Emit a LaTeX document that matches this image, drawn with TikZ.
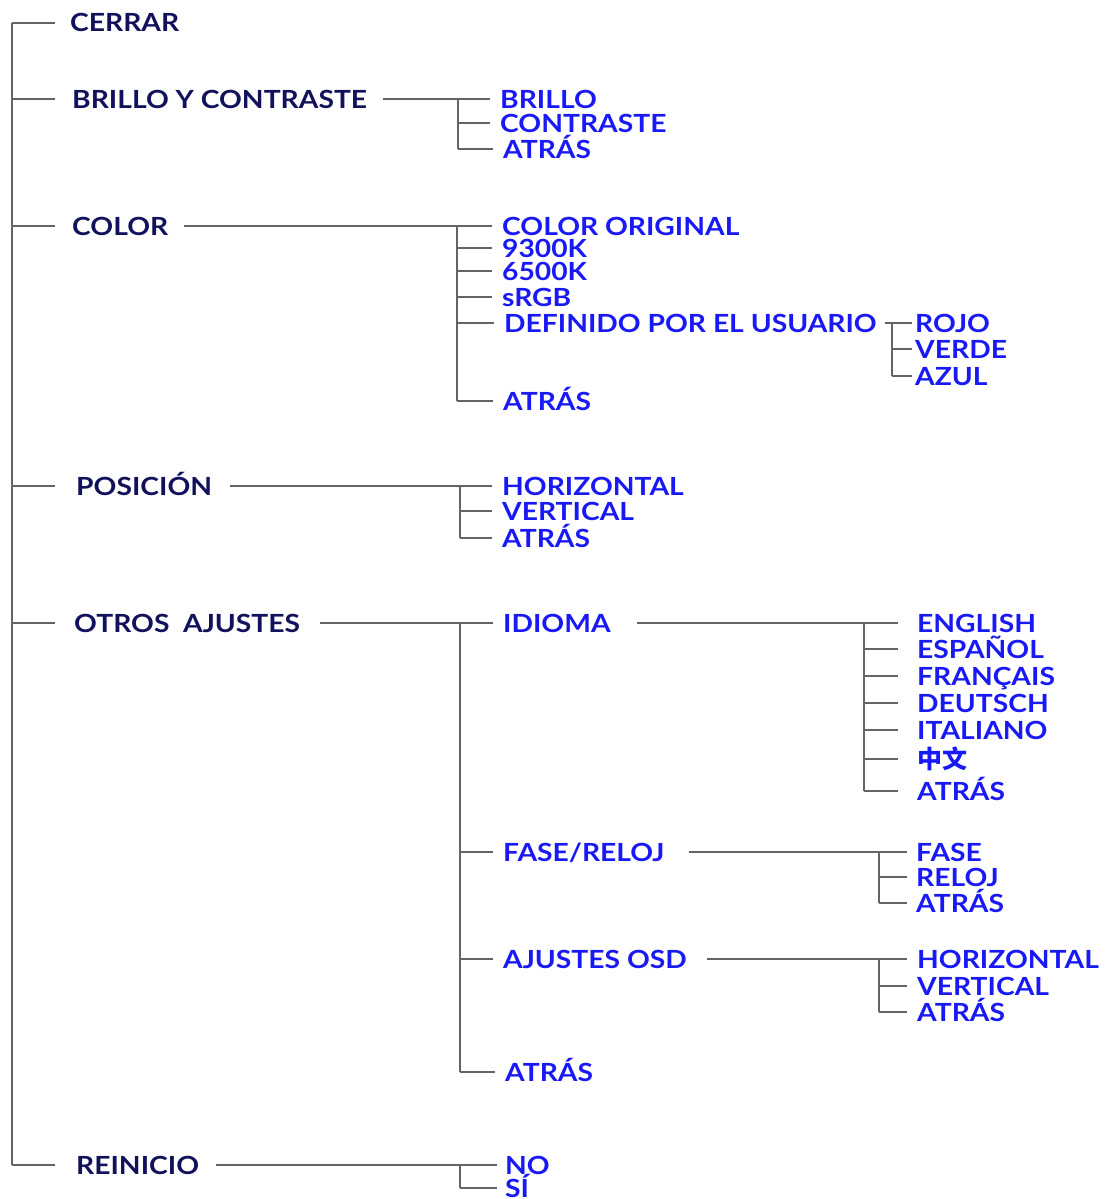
\documentclass[tikz,border=0pt]{standalone}
\usepackage{fontspec}
\setmainfont{Lato}[FakeStretch=1.13]
\newfontfamily\cjk{Noto Sans CJK SC}
\definecolor{menunavy}{RGB}{18,18,92}
\definecolor{menublue}{RGB}{25,25,245}
\definecolor{linegray}{RGB}{100,100,100}
\tikzset{
  mainitem/.style={anchor=west, inner sep=0pt, text height=18pt, text depth=0pt,
    text=menunavy, font=\fontsize{25}{25}\selectfont\bfseries},
  subitem/.style={mainitem, text=menublue},
  link/.style={draw=linegray, line width=1.4pt}
}
\begin{document}
\begin{tikzpicture}[x=1pt, y=-1pt]
\useasboundingbox (0,0) rectangle (1104,1199);
% main menu
\node[mainitem] (cerrar) at (70,23) {CERRAR};
\node[mainitem] (brillo) at (72,99) {BRILLO Y CONTRASTE};
\node[mainitem] (color) at (72,226) {COLOR};
\node[mainitem] (posicion) at (76,486) {POSICIÓN};
\node[mainitem] (otros) at (74,623) {OTROS\ \ AJUSTES};
\node[mainitem] (reinicio) at (76,1165) {REINICIO};
\coordinate (trunk) at (12,0);
\coordinate (stubend) at (55,0);
\draw[link] (trunk |- cerrar.west) -- (trunk |- reinicio.west);
\foreach \n in {cerrar,brillo,color,posicion,otros,reinicio}
  \draw[link] (trunk |- \n.west) -- (stubend |- \n.west);
% brillo y contraste
\node[subitem] (brillo1) at (500,99) {BRILLO};
\node[subitem] (brillo2) at (500,123) {CONTRASTE};
\node[subitem] (brillo3) at (503,149) {ATRÁS};
\coordinate (bxbrillo) at (458,0);
\draw[link] ([xshift=16pt]brillo.east) -- (bxbrillo |- brillo.west) -- (bxbrillo |- brillo3.west);
\foreach \n in {brillo1,brillo2,brillo3}
  \draw[link] (bxbrillo |- \n.west) -- ([xshift=-10pt]\n.west);
% color
\node[subitem] (color1) at (502,226) {COLOR ORIGINAL};
\node[subitem] (color2) at (502,248) {9300K};
\node[subitem] (color3) at (502,271) {6500K};
\node[subitem] (color4) at (502,297) {sRGB};
\node[subitem] (usuario) at (504,323) {DEFINIDO POR EL USUARIO};
\node[subitem] (color6) at (503,401) {ATRÁS};
\coordinate (bxcolor) at (457,0);
\draw[link] ([xshift=16pt]color.east) -- (bxcolor |- color.west) -- (bxcolor |- color6.west);
\foreach \n in {color1,color2,color3,color4,usuario,color6}
  \draw[link] (bxcolor |- \n.west) -- ([xshift=-10pt]\n.west);
% definido por el usuario
\node[subitem] (rojo) at (915,323) {ROJO};
\node[subitem] (verde) at (915,349) {VERDE};
\node[subitem] (azul) at (915,376) {AZUL};
\coordinate (bxusuario) at (892,0);
\draw[link] ([xshift=8pt]usuario.east) -- (bxusuario |- usuario.west) -- (bxusuario |- azul.west);
\foreach \n in {rojo,verde,azul}
  \draw[link] (bxusuario |- \n.west) -- ([xshift=-3pt]\n.west);
% posicion
\node[subitem] (pos1) at (502,486) {HORIZONTAL};
\node[subitem] (pos2) at (502,511) {VERTICAL};
\node[subitem] (pos3) at (502,538) {ATRÁS};
\coordinate (bxpos) at (460,0);
\draw[link] ([xshift=18pt]posicion.east) -- (bxpos |- posicion.west) -- (bxpos |- pos3.west);
\foreach \n in {pos1,pos2,pos3}
  \draw[link] (bxpos |- \n.west) -- ([xshift=-10pt]\n.west);
% otros ajustes
\node[subitem] (idioma) at (503,623) {IDIOMA};
\node[subitem] (fase) at (503,852) {FASE/RELOJ};
\node[subitem] (osd) at (503,959) {AJUSTES OSD};
\node[subitem] (otros4) at (505,1072) {ATRÁS};
\coordinate (bxotros) at (460,0);
\draw[link] ([xshift=20pt]otros.east) -- (bxotros |- otros.west) -- (bxotros |- otros4.west);
\foreach \n in {idioma,fase,osd,otros4}
  \draw[link] (bxotros |- \n.west) -- ([xshift=-10pt]\n.west);
% idioma
\node[subitem] (lang1) at (917,623) {ENGLISH};
\node[subitem] (lang2) at (917,649) {ESPAÑOL};
\node[subitem] (lang3) at (917,676) {FRANÇAIS};
\node[subitem] (lang4) at (917,703) {DEUTSCH};
\node[subitem] (lang5) at (917,730) {ITALIANO};
\node[subitem] (lang6) at (917,759) {\cjk\bfseries 中文};
\node[subitem] (lang7) at (917,791) {ATRÁS};
\coordinate (bxidioma) at (864,0);
\draw[link] ([xshift=26pt]idioma.east) -- (bxidioma |- idioma.west) -- (bxidioma |- lang7.west);
\foreach \n in {lang1,lang2,lang3,lang4,lang5,lang6,lang7}
  \draw[link] (bxidioma |- \n.west) -- ([xshift=-19pt]\n.west);
% fase/reloj
\node[subitem] (fase1) at (916,852) {FASE};
\node[subitem] (fase2) at (916,877) {RELOJ};
\node[subitem] (fase3) at (916,903) {ATRÁS};
\coordinate (bxfase) at (879,0);
\draw[link] ([xshift=24pt]fase.east) -- (bxfase |- fase.west) -- (bxfase |- fase3.west);
\foreach \n in {fase1,fase2,fase3}
  \draw[link] (bxfase |- \n.west) -- ([xshift=-9pt]\n.west);
% ajustes osd
\node[subitem] (osd1) at (917,959) {HORIZONTAL};
\node[subitem] (osd2) at (917,986) {VERTICAL};
\node[subitem] (osd3) at (917,1012) {ATRÁS};
\draw[link] ([xshift=20pt]osd.east) -- (bxfase |- osd.west) -- (bxfase |- osd3.west);
\foreach \n in {osd1,osd2,osd3}
  \draw[link] (bxfase |- \n.west) -- ([xshift=-10pt]\n.west);
% reinicio
\node[subitem] (no) at (505,1165) {NO};
\node[subitem] (si) at (505,1188) {SÍ};
\coordinate (bxreinicio) at (460,0);
\draw[link] ([xshift=17pt]reinicio.east) -- (bxreinicio |- reinicio.west) -- (bxreinicio |- si.west);
\foreach \n in {no,si}
  \draw[link] (bxreinicio |- \n.west) -- ([xshift=-8pt]\n.west);
\end{tikzpicture}
\end{document}
